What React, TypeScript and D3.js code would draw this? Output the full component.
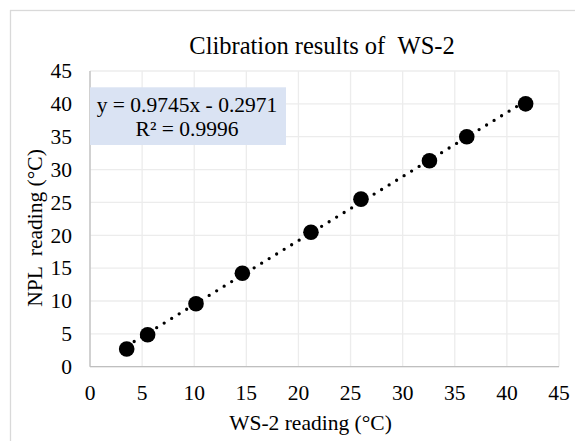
import React from "react";
import * as d3 from "d3";

const title = "Clibration results of \u00a0WS-2";
const xTitle = "WS-2 reading (°C)";
const yTitle = "NPL \u00a0reading (°C)";
const xTicks = [0, 5, 10, 15, 20, 25, 30, 35, 40, 45];
const yTicks = [0, 5, 10, 15, 20, 25, 30, 35, 40, 45];
const wsReading = [3.52, 5.53, 10.17, 14.62, 21.2, 26.0, 32.57, 36.15, 41.8];
const nplReading = [2.69, 4.87, 9.59, 14.21, 20.45, 25.5, 31.35, 35.0, 40.0];
const slope = 0.9745;
const intercept = -0.2971;
const eqLine1 = "y = 0.9745x - 0.2971";
const eqLine2 = "R² = 0.9996";

const W = 575;
const H = 441;
const left = 90, right = 559, top = 71, bottom = 366.7;
const font = "Liberation Serif, Times New Roman, serif";

export default function App() {
  const x = d3.scaleLinear().domain([0, 45]).range([left, right]);
  const y = d3.scaleLinear().domain([0, 45]).range([bottom, top]);
  const x0 = d3.min(wsReading)!;
  const x1 = d3.max(wsReading)!;
  const trend = d3.line<number>().x((d) => x(d)).y((d) => y(slope * d + intercept))([x0, x1]) || "";

  return (
    <svg width={W} height={H} style={{ position: "absolute", left: 0, top: 0, background: "#fff" }}>
      <rect x={10.5} y={10.5} width={W + 10} height={H + 10} fill="#fff" stroke="#d9d9d9" strokeWidth={1.3} />
      {xTicks.map((t) => (
        <line key={"gx" + t} x1={x(t)} x2={x(t)} y1={top} y2={bottom} stroke="#ececec" strokeWidth={1.3} />
      ))}
      {yTicks.map((t) => (
        <line key={"gy" + t} x1={left} x2={right} y1={y(t)} y2={y(t)} stroke="#ececec" strokeWidth={1.3} />
      ))}
      <line x1={left} x2={left} y1={top} y2={bottom} stroke="#bfbfbf" strokeWidth={1.3} />
      <line x1={left} x2={right} y1={bottom} y2={bottom} stroke="#bfbfbf" strokeWidth={1.3} />
      <rect x={left} y={87.3} width={196} height={57.7} fill="#dae3f3" />
      <g style={{ fontFamily: font, fontSize: "21.5px" }} fill="#000">
        {yTicks.map((t) => (
          <text key={"ty" + t} x={72} y={y(t)} dy="0.34em" textAnchor="end">{t}</text>
        ))}
        {xTicks.map((t) => (
          <text key={"tx" + t} x={x(t)} y={399.5} textAnchor="middle">{t}</text>
        ))}
        <text x={187} y={112} textAnchor="middle">{eqLine1}</text>
        <text x={187} y={136} textAnchor="middle">{eqLine2}</text>
        <text x={310.5} y={430} textAnchor="middle">{xTitle}</text>
        <text transform={`translate(42,228) rotate(-90)`} textAnchor="middle">{yTitle}</text>
        <text x={322} y={54} textAnchor="middle" style={{ fontSize: "24.5px" }}>{title}</text>
      </g>
      <path d={trend} fill="none" stroke="#000" strokeWidth={3.3} strokeDasharray="0 8.8" strokeLinecap="round" />
      {wsReading.map((v, i) => (
        <circle key={"p" + i} cx={x(v)} cy={y(nplReading[i])} r={7.8} fill="#000" />
      ))}
    </svg>
  );
}
